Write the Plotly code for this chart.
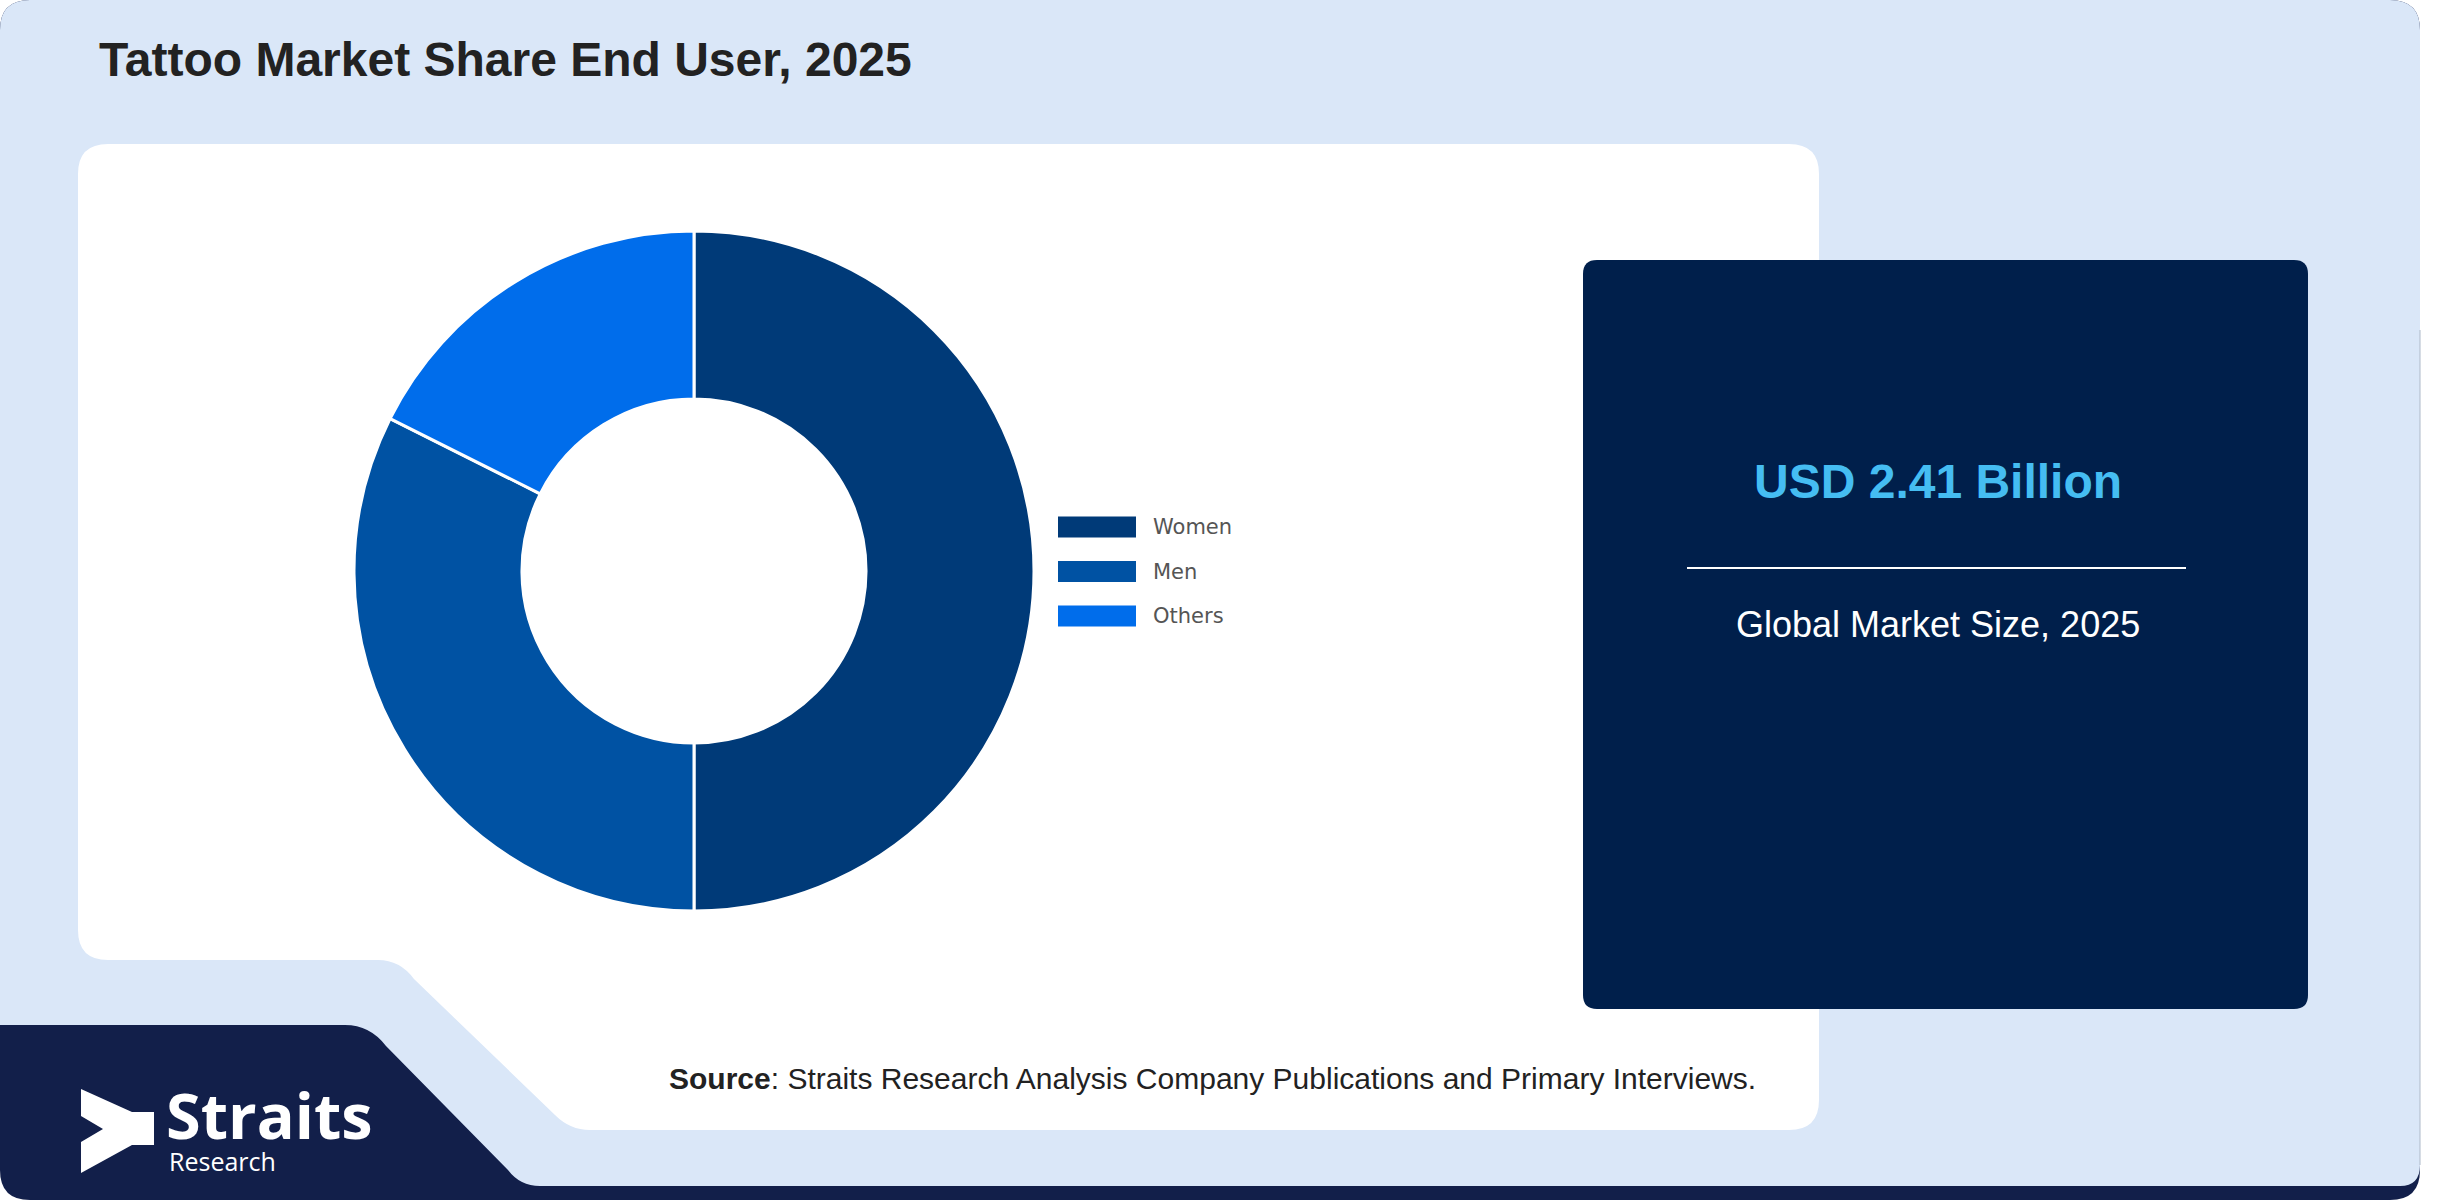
import plotly.graph_objects as go

W, H = 2452, 1200

# data
titulo = "Tattoo Market Share End User, 2025"
segmentos = ["Women", "Men", "Others"]
participacao = [50.0, 32.4, 17.6]
tamanho_mercado = "USD 2.41 Billion"
legenda_mercado = "Global Market Size, 2025"
fonte = "<b>Source</b>: Straits Research Analysis Company Publications and Primary Interviews."

cores = ["#003A78", "#0052A3", "#006DEB"]

# pixel -> paper helpers
def px(x):
    return x / W

def py(y):
    return 1 - y / H

def caminho(cmds):
    out = []
    for c in cmds:
        if c[0] == "Z":
            out.append("Z")
            continue
        nums = []
        for i, v in enumerate(c[1:]):
            nums.append(f"{px(v):.5f}" if i % 2 == 0 else f"{py(v):.5f}")
        out.append(c[0] + " " + ",".join(nums))
    return " ".join(out)

def retangulo_arred(x0, y0, x1, y1, r):
    return caminho([
        ("M", x0 + r, y0), ("L", x1 - r, y0), ("Q", x1, y0, x1, y0 + r),
        ("L", x1, y1 - r), ("Q", x1, y1, x1 - r, y1), ("L", x0 + r, y1),
        ("Q", x0, y1, x0, y1 - r), ("L", x0, y0 + r), ("Q", x0, y0, x0 + r, y0), ("Z",),
    ])

shapes = []

# fundo azul escuro (rodape)
shapes.append(dict(type="path", path=retangulo_arred(0, 0, 2420, 1200, 30),
                   fillcolor="#121F4A", line=dict(width=0), layer="below"))

# cartao azul claro
shapes.append(dict(type="path", path=caminho([
    ("M", 0, 30), ("Q", 0, 0, 30, 0), ("L", 2390, 0), ("Q", 2420, 0, 2420, 30),
    ("L", 2420, 1165), ("Q", 2420, 1186, 2400, 1186), ("L", 540, 1186),
    ("Q", 520, 1186, 508, 1170), ("L", 386, 1046), ("Q", 370, 1025, 345, 1025),
    ("L", 0, 1025), ("Z",),
]), fillcolor="#DAE7F8", line=dict(width=0), layer="below"))
shapes.append(dict(type="line", xref="paper", yref="paper",
                   x0=px(2420), x1=px(2420), y0=py(330), y1=py(1165),
                   line=dict(color="#AEB9C9", width=1), layer="below"))

# painel branco
shapes.append(dict(type="path", path=caminho([
    ("M", 78, 174), ("Q", 78, 144, 108, 144), ("L", 1789, 144), ("Q", 1819, 144, 1819, 174),
    ("L", 1819, 1100), ("Q", 1819, 1130, 1789, 1130), ("L", 590, 1130),
    ("Q", 570, 1130, 555, 1115), ("L", 414, 979), ("Q", 400, 960, 378, 960),
    ("L", 108, 960), ("Q", 78, 960, 78, 930), ("Z",),
]), fillcolor="white", line=dict(width=0), layer="below"))

# caixa do tamanho de mercado
shapes.append(dict(type="path", path=retangulo_arred(1583, 260, 2308, 1009, 14),
                   fillcolor="#001F4B", line=dict(width=0), layer="below"))
shapes.append(dict(type="line", xref="paper", yref="paper",
                   x0=px(1687), x1=px(2186), y0=py(568), y1=py(568),
                   line=dict(color="white", width=2)))

# logo
shapes.append(dict(type="path", path=caminho([
    ("M", 81, 1089), ("L", 132, 1112), ("L", 154, 1112), ("L", 154, 1145), ("L", 132, 1145),
    ("L", 81, 1173), ("L", 81, 1142), ("L", 103, 1129), ("L", 81, 1116), ("Z",),
]), fillcolor="white", line=dict(width=0)))

annotations = []

# legenda manual
for i, (nome, cor) in enumerate(zip(segmentos, cores)):
    cy = 527 + i * 44.5
    shapes.append(dict(type="rect", xref="paper", yref="paper",
                       x0=px(1058), x1=px(1136), y0=py(cy + 10.5), y1=py(cy - 10.5),
                       fillcolor=cor, line=dict(width=0)))
    annotations.append(dict(x=px(1151), y=py(cy), text=nome, xanchor="left", yanchor="middle",
                            font=dict(family="DejaVu Sans", size=21, color="#555555")))

annotations += [
    dict(x=px(97), y=py(59), text=f"<b>{titulo}</b>", xanchor="left", yanchor="middle",
         font=dict(family="Liberation Sans", size=48, color="#222222")),
    dict(x=px(1938), y=py(482), text=f"<b>{tamanho_mercado}</b>", xanchor="center", yanchor="middle",
         font=dict(family="Liberation Sans", size=48, color="#45BDF2")),
    dict(x=px(1938), y=py(624), text=legenda_mercado, xanchor="center", yanchor="middle",
         font=dict(family="Liberation Sans", size=36, color="white")),
    dict(x=px(667), y=py(1078), text=fonte, xanchor="left", yanchor="middle",
         font=dict(family="Liberation Sans", size=30, color="#222222")),
    dict(x=px(164), y=py(1114), text="<b>Straits</b>", xanchor="left", yanchor="middle",
         font=dict(family="Open Sans", size=63, color="white")),
    dict(x=px(167), y=py(1161), text="Research", xanchor="left", yanchor="middle",
         font=dict(family="Open Sans", size=25, color="white")),
]
for a in annotations:
    a["xref"] = "paper"
    a["yref"] = "paper"
    a["showarrow"] = False

# rosca
cx, cy, r = 694, 571, 340
fig = go.Figure(go.Pie(
    labels=segmentos, values=participacao, hole=0.506, sort=False,
    direction="clockwise", rotation=0, textinfo="none",
    marker=dict(colors=cores, line=dict(color="white", width=3)),
    domain=dict(x=[px(cx - r), px(cx + r)], y=[py(cy + r), py(cy - r)]),
    showlegend=False,
))

fig.update_layout(
    width=W, height=H, margin=dict(l=0, r=0, t=0, b=0),
    paper_bgcolor="white", plot_bgcolor="white",
    shapes=shapes, annotations=annotations,
)

fig.write_html("out.html", config={"displayModeBar": False},
               post_script="document.body.style.margin='0px';")
